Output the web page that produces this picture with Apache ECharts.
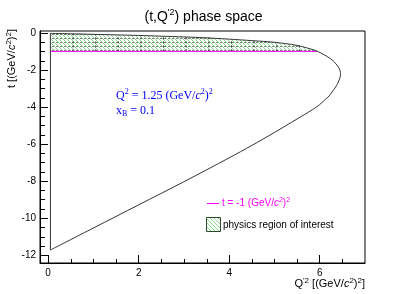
<!DOCTYPE html>
<html><head><meta charset="utf-8">
<script src="https://cdn.jsdelivr.net/npm/echarts@6/dist/echarts.min.js"></script>
<style>html,body{margin:0;padding:0;background:#fff}#c{width:407px;height:294px}</style>
</head><body><div id="c"></div>
<script>
// ---- data ----
const upperQ = [0.05, 0.5, 1.0, 1.5, 2.0, 2.5, 3.0, 3.5, 4.0, 4.5, 5.0, 5.5, 5.9, 6.05, 6.18, 6.28, 6.36, 6.42, 6.45, 6.46];
const upperT = [-0.03, -0.05, -0.08, -0.11, -0.14, -0.18, -0.22, -0.27, -0.34, -0.42, -0.51, -0.68, -0.95, -1.12, -1.3, -1.48, -1.68, -1.88, -2.05, -2.2];
const lowerQ = [0.05, 1.0, 2.0, 3.0, 4.0, 4.5, 5.0, 5.5, 5.84, 6.0, 6.1, 6.21, 6.3, 6.37, 6.42, 6.45, 6.46];
const lowerT = [-11.73, -10.54, -9.29, -8.04, -6.75, -6.08, -5.38, -4.65, -4.15, -3.87, -3.65, -3.4, -3.1, -2.85, -2.6, -2.4, -2.2];
const tCut = -1;
const cutQ = [0.05, 5.95];
const binEdgesQ = [0.55, 1.05, 1.55, 2.05, 2.55, 3.05, 3.55, 4.05, 4.55, 5.05, 5.55];
const binTopsT  = [-0.05, -0.08, -0.11, -0.14, -0.18, -0.22, -0.27, -0.34, -0.42, -0.51, -0.70];
const xMajorTicks = [0, 2, 4, 6];
const xMinorTicks = [0.5, 1, 1.5, 2.5, 3, 3.5, 4.5, 5, 5.5, 6.5];
const yMajorTicks = [-12, -10, -8, -6, -4, -2, 0];
const yMinorTicks = [-11.5, -11, -10.5, -9.5, -9, -8.5, -7.5, -7, -6.5, -5.5, -5, -4.5, -3.5, -3, -2.5, -1.5, -1, -0.5];

const SANS = '"Liberation Sans", Arial, Helvetica, sans-serif';
const SERIF = '"Liberation Serif", "Times New Roman", serif';
const MAG = '#ff00ff';

function makePattern(withDash) {
  const c = document.createElement('canvas');
  c.width = 4; c.height = 4;
  const g = c.getContext('2d');
  g.fillStyle = '#ffffff'; g.fillRect(0, 0, 4, 4);
  g.fillStyle = '#8fd88f';
  for (let i = 0; i < 4; i++) g.fillRect(i, i, 1, 1);
  if (withDash) {
    g.fillStyle = 'rgba(70,70,70,0.7)';
    g.fillRect(0, 2, 2, 1);
  }
  return c;
}
const regionPattern = { image: makePattern(true), repeat: 'repeat' };
const legendPattern = { image: makePattern(false), repeat: 'repeat' };

const curvePts = [];
for (let i = 0; i < upperQ.length; i++) curvePts.push([upperQ[i], upperT[i]]);
for (let i = lowerQ.length - 1; i >= 0; i--) curvePts.push([lowerQ[i], lowerT[i]]);
const edgePts = [[upperQ[0], upperT[0]], [lowerQ[0], lowerT[0]]];

const regionPts = [];
for (let i = 0; i < upperQ.length; i++) if (upperT[i] >= tCut) regionPts.push([upperQ[i], upperT[i]]);
regionPts.push([cutQ[1], tCut]);
regionPts.push([cutQ[0], tCut]);

const binData = binEdgesQ.map((q, i) => [q, binTopsT[i]]);

const chart = echarts.init(document.getElementById('c'), null, { renderer: 'canvas' });

chart.setOption({
  animation: false,
  backgroundColor: '#fff',
  title: {
    text: '(t,Q{s|\'2}) phase space',
    left: 'center', top: 3,
    textStyle: {
      fontFamily: SANS, fontSize: 14, fontWeight: 'normal', color: '#000', lineHeight: 18,
      rich: { s: { fontFamily: SANS, fontSize: 9, verticalAlign: 'top', lineHeight: 12, color: '#000' } }
    }
  },
  grid: { left: 40, top: 31, width: 325, height: 232, show: true, borderColor: '#000', borderWidth: 1, backgroundColor: 'transparent' },
  xAxis: {
    type: 'value', min: -0.18, max: 7, position: 'bottom', splitLine: { show: false },
    axisLine: { show: true, onZero: false, lineStyle: { color: '#000', width: 1 } },
    axisTick: { show: true, inside: true, length: 8, customValues: xMajorTicks, lineStyle: { color: '#000' } },
    axisLabel: { show: true, customValues: xMajorTicks, margin: 5, fontFamily: SANS, fontSize: 10, color: '#000' }
  },
  yAxis: {
    type: 'value', min: -12.43, max: 0.1, position: 'left', splitLine: { show: false },
    axisLine: { show: true, onZero: false, lineStyle: { color: '#000', width: 1 } },
    axisTick: { show: true, inside: true, length: 8, customValues: yMajorTicks, lineStyle: { color: '#000' } },
    axisLabel: { show: true, customValues: yMajorTicks, margin: 4, fontFamily: SANS, fontSize: 10, color: '#000' }
  },
  graphic: [
    {
      type: 'text', left: 116, top: 88, silent: true,
      style: {
        text: 'Q{s|2} = 1.25 (GeV/{i|c}{s|2}){s|2}\nx{b|B} = 0.1',
        fill: '#0000ff', font: '12px ' + SERIF, lineHeight: 15,
        rich: {
          s: { fontFamily: SERIF, fontSize: 8, verticalAlign: 'top', lineHeight: 15, fill: '#0000ff' },
          b: { fontFamily: SERIF, fontSize: 8, verticalAlign: 'bottom', lineHeight: 15, fill: '#0000ff' },
          i: { fontFamily: SERIF, fontSize: 12, fontStyle: 'italic', fill: '#0000ff' }
        }
      }
    },
    {
      type: 'text', x: 12, y: 29, rotation: Math.PI / 2, silent: true,
      style: {
        text: 't [(GeV/{i|c}{s|2}){s|2}]',
        fill: '#000', font: '11px ' + SANS, align: 'right', verticalAlign: 'middle', lineHeight: 14,
        rich: {
          s: { fontFamily: SANS, fontSize: 8, verticalAlign: 'top', lineHeight: 14 },
          i: { fontFamily: SANS, fontSize: 11, fontStyle: 'italic' }
        }
      }
    },
    {
      type: 'text', x: 365, y: 284, silent: true,
      style: {
        text: 'Q{s|\'2} [(GeV/{i|c}{s|2}){s|2}]',
        fill: '#000', font: '11px ' + SANS, align: 'right', verticalAlign: 'middle', lineHeight: 14,
        rich: {
          s: { fontFamily: SANS, fontSize: 8, verticalAlign: 'top', lineHeight: 14 },
          i: { fontFamily: SANS, fontSize: 11, fontStyle: 'italic' }
        }
      }
    },
    // legend
    {
      type: 'line', silent: true, shape: { x1: 207, y1: 203.5, x2: 219, y2: 203.5 },
      style: { stroke: MAG, lineWidth: 1 }
    },
    {
      type: 'text', x: 222, y: 203, silent: true,
      style: {
        text: 't = -1 (GeV/{i|c}{s|2}){s|2}',
        fill: MAG, font: '10px ' + SANS, align: 'left', verticalAlign: 'middle', lineHeight: 13,
        rich: {
          i: { fontFamily: SANS, fontSize: 10, fontStyle: 'italic', fill: MAG },
          s: { fontFamily: SANS, fontSize: 7, verticalAlign: 'top', lineHeight: 13, fill: MAG }
        }
      }
    },
    {
      type: 'rect', silent: true, shape: { x: 206.5, y: 217.5, width: 14, height: 14 },
      style: { fill: legendPattern, stroke: '#2a4a2a', lineWidth: 1 }
    },
    {
      type: 'text', x: 223, y: 225, silent: true,
      style: { text: 'physics region of interest', fill: '#000', font: '10px ' + SANS, align: 'left', verticalAlign: 'middle' }
    }
  ],
  series: [
    {
      name: 'physics region of interest', type: 'custom',
      data: [[cutQ[0], tCut]], z: 1, silent: true,
      renderItem: function (params, api) {
        const pts = regionPts.map(p => api.coord(p));
        return { type: 'polygon', shape: { points: pts }, style: { fill: regionPattern, stroke: null } };
      }
    },
    {
      name: 'bins', type: 'custom', data: binData, z: 2, silent: true,
      renderItem: function (params, api) {
        const a = api.coord([api.value(0), tCut]);
        const b = api.coord([api.value(0), api.value(1)]);
        return { type: 'line', shape: { x1: a[0], y1: a[1], x2: b[0], y2: b[1] },
          style: { stroke: '#333', lineWidth: 1, lineDash: [2, 2] } };
      }
    },
    {
      name: 'xMinorTicks', type: 'custom', data: xMinorTicks.map(v => [v, 0]), z: 5, silent: true, clip: false,
      renderItem: function (params, api) {
        const p = api.coord([api.value(0), 0]);
        const cs = params.coordSys;
        const x = Math.round(p[0]) + 0.5, yb = cs.y + cs.height;
        return { type: 'line', shape: { x1: x, y1: yb, x2: x, y2: yb - 4 }, style: { stroke: '#000', lineWidth: 1 } };
      }
    },
    {
      name: 'yMinorTicks', type: 'custom', data: yMinorTicks.map(v => [0, v]), z: 5, silent: true, clip: false,
      renderItem: function (params, api) {
        const p = api.coord([0, api.value(1)]);
        const cs = params.coordSys;
        const y = Math.round(p[1]) + 0.5, xl = cs.x;
        return { type: 'line', shape: { x1: xl, y1: y, x2: xl + 5, y2: y }, style: { stroke: '#000', lineWidth: 1 } };
      }
    },
    {
      name: 'cut', type: 'line', data: [[cutQ[0], tCut], [cutQ[1], tCut]], symbol: 'none', z: 3,
      lineStyle: { color: MAG, width: 1 }
    },
    {
      name: 'boundary', type: 'line', data: curvePts, symbol: 'none', smooth: 0.3, z: 4,
      lineStyle: { color: '#333', width: 1 }
    },
    {
      name: 'edge', type: 'line', data: edgePts, symbol: 'none', z: 4,
      lineStyle: { color: '#333', width: 1 }
    }
  ]
});
</script></body></html>
